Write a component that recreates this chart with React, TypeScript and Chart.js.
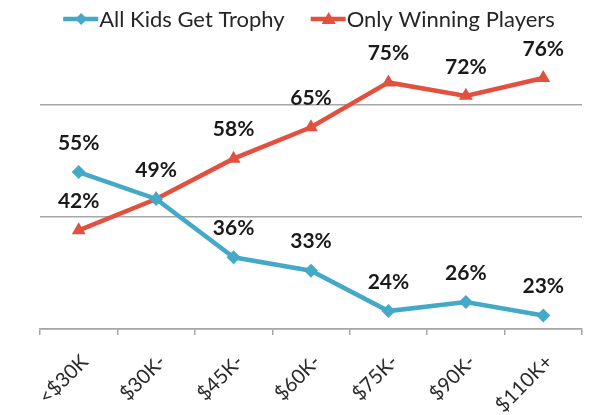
import React, { useEffect, useRef } from "react";
import { Chart, registerables } from "chart.js";

Chart.register(...registerables);

const categories = ["<$30K", "$30K-", "$45K-", "$60K-", "$75K-", "$90K-", "$110K+"];
const allKidsTrophy = [55, 49, 36, 33, 24, 26, 23];
const onlyWinners = [42, 49, 58, 65, 75, 72, 76];
const seriesNames = ["All Kids Get Trophy", "Only Winning Players"];
const yGridTicks = [20, 45, 70];

const BLUE = "#44A9C6";
const RED = "#E2513F";
const FONT = "Lato, 'Open Sans', sans-serif";

const labelPlugin = {
  id: "valueLabels",
  afterDatasetsDraw(chart: any) {
    const ctx = chart.ctx;
    ctx.save();
    ctx.font = `bold 21px ${FONT}`;
    ctx.fillStyle = "#1a1a1a";
    ctx.textAlign = "center";
    ctx.textBaseline = "middle";
    chart.data.datasets.forEach((ds: any, i: number) => {
      const meta = chart.getDatasetMeta(i);
      meta.data.forEach((pt: any, j: number) => {
        if (i === 1 && j === 1) return; // shared 49% label drawn once
        ctx.fillText(ds.data[j] + "%", pt.x, pt.y - 29);
      });
    });
    ctx.restore();
  },
};

const legendPlugin = {
  id: "customLegend",
  afterDraw(chart: any) {
    const ctx = chart.ctx;
    const area = chart.chartArea;
    ctx.save();
    ctx.font = `22px ${FONT}`;
    ctx.textBaseline = "middle";
    const markW = 36;
    const gap = 26;
    const widths = seriesNames.map((n) => markW + ctx.measureText(n).width);
    const total = widths[0] + widths[1] + gap;
    let x = (area.left + area.right) / 2 - total / 2 - 2;
    const y = 19;
    seriesNames.forEach((name, i) => {
      const color = i === 0 ? BLUE : RED;
      ctx.strokeStyle = color;
      ctx.fillStyle = color;
      ctx.lineWidth = 4.5;
      ctx.beginPath();
      ctx.moveTo(x, y);
      ctx.lineTo(x + markW - 1, y);
      ctx.stroke();
      const cx = x + markW / 2;
      ctx.beginPath();
      if (i === 0) {
        ctx.moveTo(cx, y - 6);
        ctx.lineTo(cx + 6, y);
        ctx.lineTo(cx, y + 6);
        ctx.lineTo(cx - 6, y);
      } else {
        ctx.moveTo(cx, y - 7);
        ctx.lineTo(cx + 7, y + 5);
        ctx.lineTo(cx - 7, y + 5);
      }
      ctx.closePath();
      ctx.fill();
      ctx.fillStyle = "#262626";
      ctx.textAlign = "left";
      ctx.fillText(name, x + markW, y + 1);
      x += widths[i] + gap;
    });
    ctx.restore();
  },
};

export default function App() {
  const ref = useRef<HTMLCanvasElement>(null);
  useEffect(() => {
    if (!ref.current) return;
    const chart = new Chart(ref.current, {
      type: "line",
      data: {
        labels: categories,
        datasets: [
          {
            label: seriesNames[0],
            data: allKidsTrophy,
            borderColor: BLUE,
            backgroundColor: BLUE,
            borderWidth: 4.5,
            pointStyle: "rectRot",
            pointRadius: 7,
            pointBorderWidth: 0,
            tension: 0,
          },
          {
            label: seriesNames[1],
            data: onlyWinners,
            borderColor: RED,
            backgroundColor: RED,
            borderWidth: 4.5,
            pointStyle: "triangle",
            pointRadius: 8,
            pointBorderWidth: 0,
            tension: 0,
          },
        ],
      },
      options: {
        animation: false,
        responsive: false,
        maintainAspectRatio: false,
        layout: { padding: { top: 60, left: 40, right: 2, bottom: 0 } },
        plugins: {
          legend: { display: false },
          tooltip: { enabled: false },
        },
        scales: {
          x: {
            offset: true,
            grid: {
              offset: true,
              drawOnChartArea: false,
              drawTicks: true,
              tickLength: 6,
              color: "#a6a6a6",
              lineWidth: 1.5,
            },
            border: { display: true, color: "#a6a6a6", width: 1.5 },
            ticks: {
              maxRotation: 45,
              minRotation: 45,
              autoSkip: false,
              color: "#2a2a2a",
              font: { family: FONT, size: 20 },
              padding: 15,
              labelOffset: 6,
            },
            afterFit: (scale: any) => {
              scale.height = 86;
            },
          },
          y: {
            min: 20,
            max: 80,
            afterBuildTicks: (axis: any) => {
              axis.ticks = yGridTicks.map((v) => ({ value: v }));
            },
            ticks: { display: false },
            grid: { drawTicks: false, color: "#a6a6a6", lineWidth: 1.5 },
            border: { display: false },
            afterFit: (scale: any) => {
              scale.width = 0;
            },
          },
        },
      },
      plugins: [labelPlugin, legendPlugin],
    });
    return () => chart.destroy();
  }, []);
  return (
    <div style={{ position: "fixed", left: 0, top: 0, width: 590, height: 415, background: "#fff" }}>
      <canvas ref={ref} width={590} height={415} style={{ width: 590, height: 415 }} />
    </div>
  );
}
